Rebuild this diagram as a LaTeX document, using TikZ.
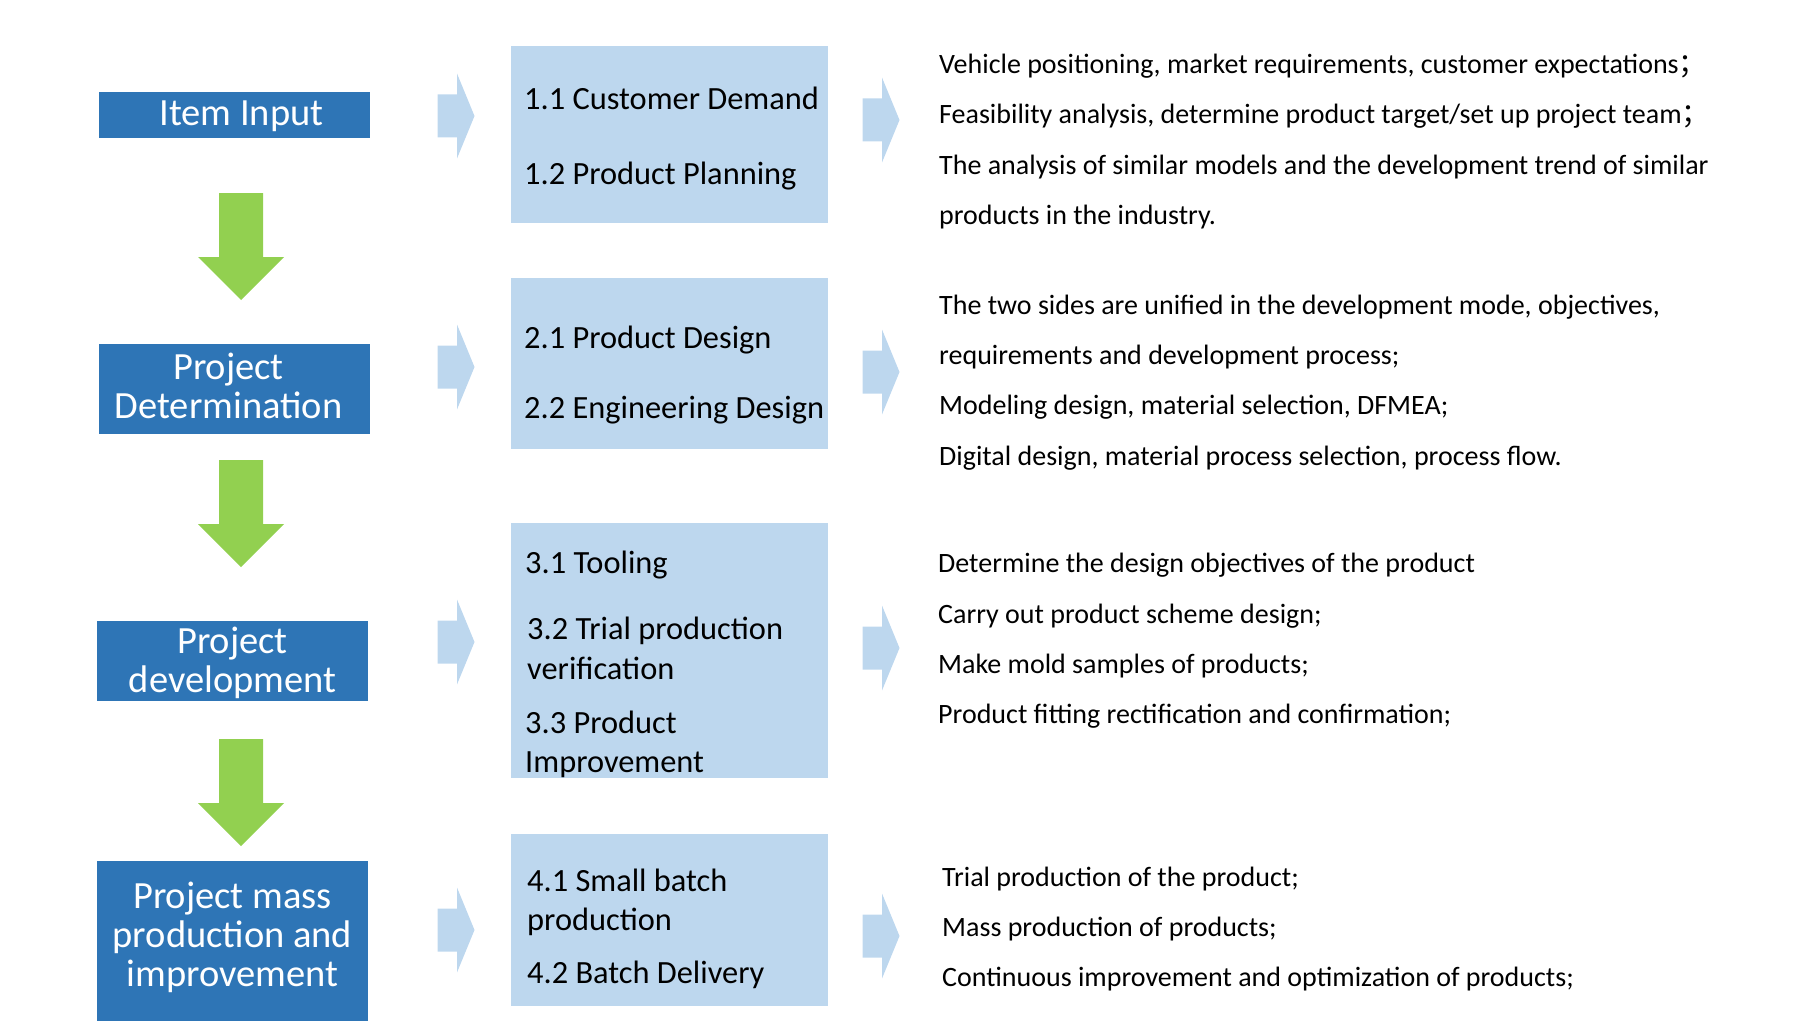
\documentclass[tikz,border=0pt]{standalone}
\usepackage{fontspec}
\setmainfont{Carlito}
\newfontfamily\cjk{Noto Sans CJK SC}
\definecolor{darkblue}{HTML}{2E75B6}
\definecolor{lightblue}{HTML}{BDD7EE}
\definecolor{arrowgreen}{HTML}{92D050}
\tikzset{
  leftbox/.style={fill=darkblue, inner sep=0pt, outer sep=0pt, anchor=north west},
  lefttext/.style={text=white, inner sep=0pt, align=center, font=\fontsize{38.5}{39}\selectfont},
  stagebox/.style={fill=lightblue, inner sep=0pt, outer sep=0pt, anchor=north west},
  boxtext/.style={anchor=base west, inner sep=0pt, font=\fontsize{32.4}{39}\selectfont},
  desc/.style={anchor=base west, inner sep=0pt, font=\fontsize{28}{32}\selectfont},
  downarrow/.pic={\fill[arrowgreen] (-22,0) -- (22,0) -- (22,64) -- (43,64) -- (0,107) -- (-43,64) -- (-22,64) -- cycle;},
  chevron/.pic={\fill[lightblue] (-19.5,-21.5) -- (0,-21.5) -- (0,-42.5) -- (17.5,0) -- (0,42.5) -- (0,21.5) -- (-19.5,21.5) -- cycle;}
}
\begin{document}
\begin{tikzpicture}[x=1pt,y=-1pt]
\useasboundingbox (0,0) rectangle (1809,1030);

% left stage boxes
\node[leftbox, minimum width=271, minimum height=46] (s1) at (99,92) {};
\node[leftbox, minimum width=271, minimum height=90] (s2) at (99,344) {};
\node[leftbox, minimum width=271, minimum height=80] (s3) at (97,621) {};
\node[leftbox, minimum width=271, minimum height=160] (s4) at (97,861) {};
\node[lefttext, xshift=7pt, yshift=-1pt] (s1t) at (s1.center) {Item Input};
\node[lefttext, xshift=-6pt, yshift=2.7pt] (s2t) at (s2.center) {Project\\Determination};
\node[lefttext, yshift=-2pt] (s3t) at (s3.center) {Project\\development};
\node[lefttext, yshift=4pt] (s4t) at (s4.center) {Project mass\\production and\\improvement};

% green down arrows
\pic at (241,193) {downarrow};
\pic at (241,460) {downarrow};
\pic at (241,739) {downarrow};

% light chevrons
\pic at (457,116) {chevron};
\pic at (457,367) {chevron};
\pic at (457,642) {chevron};
\pic at (457,930) {chevron};
\pic at (882,120) {chevron};
\pic at (882,372) {chevron};
\pic at (882,648) {chevron};
\pic at (882,936) {chevron};

% light boxes
\node[stagebox, minimum width=317, minimum height=177] (b1) at (511,46) {};
\node[stagebox, minimum width=317, minimum height=171] (b2) at (511,278) {};
\node[stagebox, minimum width=317, minimum height=255] (b3) at (511,523) {};
\node[stagebox, minimum width=317, minimum height=172] (b4) at (511,834) {};

\node[boxtext] (t11) at (524,110) {1.1 Customer Demand};
\node[boxtext] (t12) at (524,184) {1.2 Product Planning};
\node[boxtext] (t21) at (524,348) {2.1 Product Design};
\node[boxtext] (t22) at (524,418) {2.2 Engineering Design};
\node[boxtext] (t31) at (525,573) {3.1 Tooling};
\node[boxtext] (t32a) at (527,639) {3.2 Trial production};
\node[boxtext] (t32b) at (527,679) {verification};
\node[boxtext] (t33a) at (525,733) {3.3 Product};
\node[boxtext] (t33b) at (525,772) {Improvement};
\node[boxtext] (t41a) at (527,891) {4.1 Small batch};
\node[boxtext] (t41b) at (527,930) {production};
\node[boxtext] (t42) at (527,983) {4.2 Batch Delivery};

% descriptions
\node[desc] (d1a) at (939,74) {Vehicle positioning, market requirements, customer expectations{\cjk ；}};
\node[desc] (d1b) at (939,124) {Feasibility analysis, determine product target/set up project team{\cjk ；}};
\node[desc] (d1c) at (939,174) {The analysis of similar models and the development trend of similar};
\node[desc] (d1d) at (939,224) {products in the industry.};
\node[desc] (d2a) at (939,314) {The two sides are unified in the development mode, objectives,};
\node[desc] (d2b) at (939,364) {requirements and development process;};
\node[desc] (d2c) at (939,414) {Modeling design, material selection, DFMEA;};
\node[desc] (d2d) at (939,465) {Digital design, material process selection, process flow.};
\node[desc] (d3a) at (938,572) {Determine the design objectives of the product};
\node[desc] (d3b) at (938,623) {Carry out product scheme design;};
\node[desc] (d3c) at (938,673) {Make mold samples of products;};
\node[desc] (d3d) at (938,723) {Product fitting rectification and confirmation;};
\node[desc] (d4a) at (942,886) {Trial production of the product;};
\node[desc] (d4b) at (942,936) {Mass production of products;};
\node[desc] (d4c) at (942,986) {Continuous improvement and optimization of products;};
\end{tikzpicture}
\end{document}
